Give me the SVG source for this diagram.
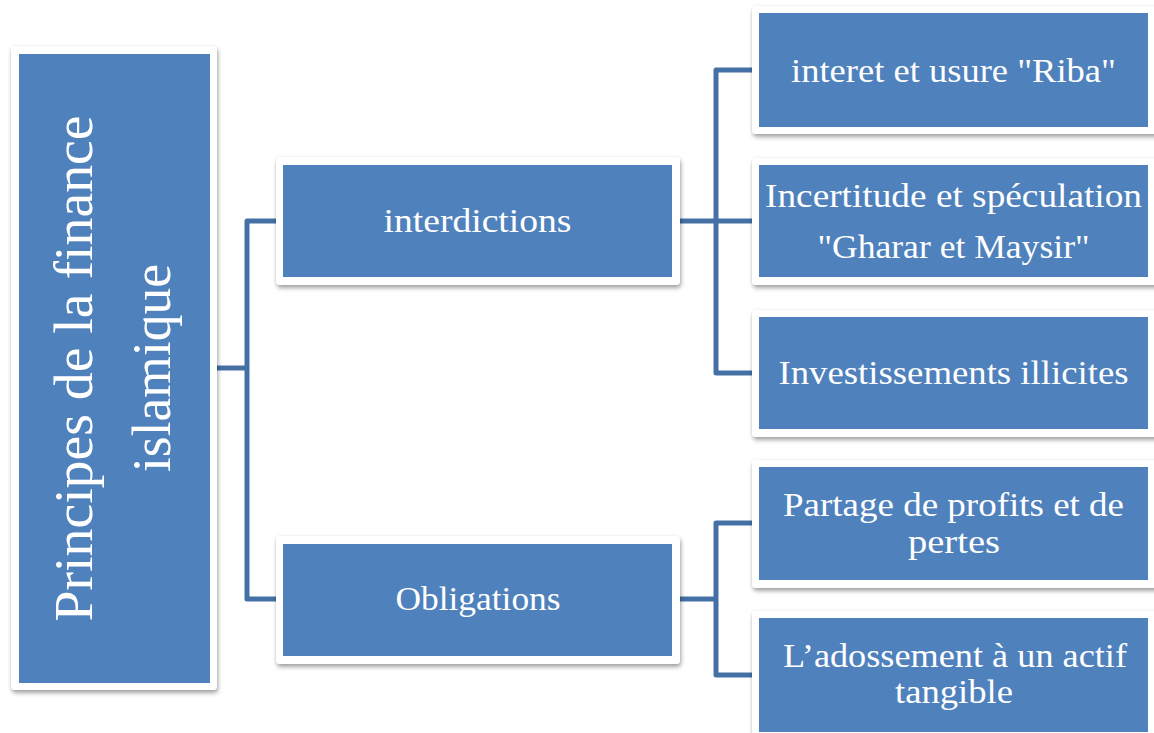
<svg xmlns="http://www.w3.org/2000/svg" width="1154" height="733" viewBox="0 0 1154 733">
  <defs>
    <filter id="lift" x="-10%" y="-10%" width="120%" height="130%">
      <feDropShadow dx="0" dy="0" stdDeviation="1.5" flood-color="#000" flood-opacity="0.08" result="halo"/>
      <feDropShadow dx="1" dy="3" stdDeviation="2" flood-color="#000" flood-opacity="0.35"/>
    </filter>
    <style>
      .frame { fill: #FFFFFF; filter: url(#lift); }
      .body { fill: #4F81BD; }
      .label { font-family: "Liberation Serif", "DejaVu Serif", serif; font-size: 33px; fill: #FFFFFF; text-anchor: middle; }
      .root-label { font-size: 55px; }
      .link { fill: none; stroke: #4470A6; stroke-width: 5; stroke-linejoin: round; }
    </style>
  </defs>

  <rect width="1154" height="733" fill="#FFFFFF"/>

  <!-- connectors -->
  <g id="connectors">
    <path class="link" d="M217,368 H247"/>
    <path class="link" d="M276,221 H247 V599 H276"/>
    <path class="link" d="M680,221 H752"/>
    <path class="link" d="M752,70 H716 V373 H752"/>
    <path class="link" d="M680,599 H716"/>
    <path class="link" d="M752,523 H716 V675 H752"/>
  </g>

  <!-- root -->
  <g id="node-principes">
    <rect class="frame" x="11" y="46" width="206" height="644" rx="4"/>
    <rect class="body" x="19" y="54" width="191" height="629"/>
    <text class="label root-label" transform="translate(92,368.5) rotate(-90)" textLength="506" lengthAdjust="spacingAndGlyphs">Principes de la finance</text>
    <text class="label root-label" transform="translate(170,368) rotate(-90)" textLength="208" lengthAdjust="spacingAndGlyphs">islamique</text>
  </g>

  <!-- second level -->
  <g id="node-interdictions">
    <rect class="frame" x="276" y="157" width="404" height="128" rx="4"/>
    <rect class="body" x="283" y="165" width="389" height="112"/>
    <text class="label" x="477.5" y="232" textLength="188" lengthAdjust="spacingAndGlyphs">interdictions</text>
  </g>

  <g id="node-obligations">
    <rect class="frame" x="276" y="536" width="404" height="128" rx="4"/>
    <rect class="body" x="283" y="544" width="389" height="112"/>
    <text class="label" x="478" y="610" textLength="165" lengthAdjust="spacingAndGlyphs">Obligations</text>
  </g>

  <!-- third level -->
  <g id="node-riba">
    <rect class="frame" x="752" y="6" width="408" height="128" rx="4"/>
    <rect class="body" x="759" y="13" width="389" height="114"/>
    <text class="label" x="953.5" y="82" textLength="325" lengthAdjust="spacingAndGlyphs">interet et usure "Riba"</text>
  </g>

  <g id="node-gharar">
    <rect class="frame" x="752" y="158" width="408" height="127" rx="4"/>
    <rect class="body" x="759" y="165" width="389" height="112"/>
    <text class="label" x="953.5" y="207" textLength="377" lengthAdjust="spacingAndGlyphs">Incertitude et spéculation</text>
    <text class="label" x="953.5" y="258" textLength="272" lengthAdjust="spacingAndGlyphs">"Gharar et Maysir"</text>
  </g>

  <g id="node-illicites">
    <rect class="frame" x="752" y="310" width="408" height="127" rx="4"/>
    <rect class="body" x="759" y="317" width="389" height="112"/>
    <text class="label" x="953.5" y="384" textLength="350" lengthAdjust="spacingAndGlyphs">Investissements illicites</text>
  </g>

  <g id="node-partage">
    <rect class="frame" x="752" y="460" width="408" height="128" rx="4"/>
    <rect class="body" x="759" y="467" width="389" height="113"/>
    <text class="label" x="953.5" y="516" textLength="341" lengthAdjust="spacingAndGlyphs">Partage de profits et de</text>
    <text class="label" x="954" y="553" textLength="92" lengthAdjust="spacingAndGlyphs">pertes</text>
  </g>

  <g id="node-adossement">
    <rect class="frame" x="752" y="611" width="408" height="128" rx="4"/>
    <rect class="body" x="759" y="618" width="389" height="114"/>
    <text class="label" x="955" y="667" textLength="344" lengthAdjust="spacingAndGlyphs">L’adossement à un actif</text>
    <text class="label" x="954" y="703" textLength="118" lengthAdjust="spacingAndGlyphs">tangible</text>
  </g>
</svg>
